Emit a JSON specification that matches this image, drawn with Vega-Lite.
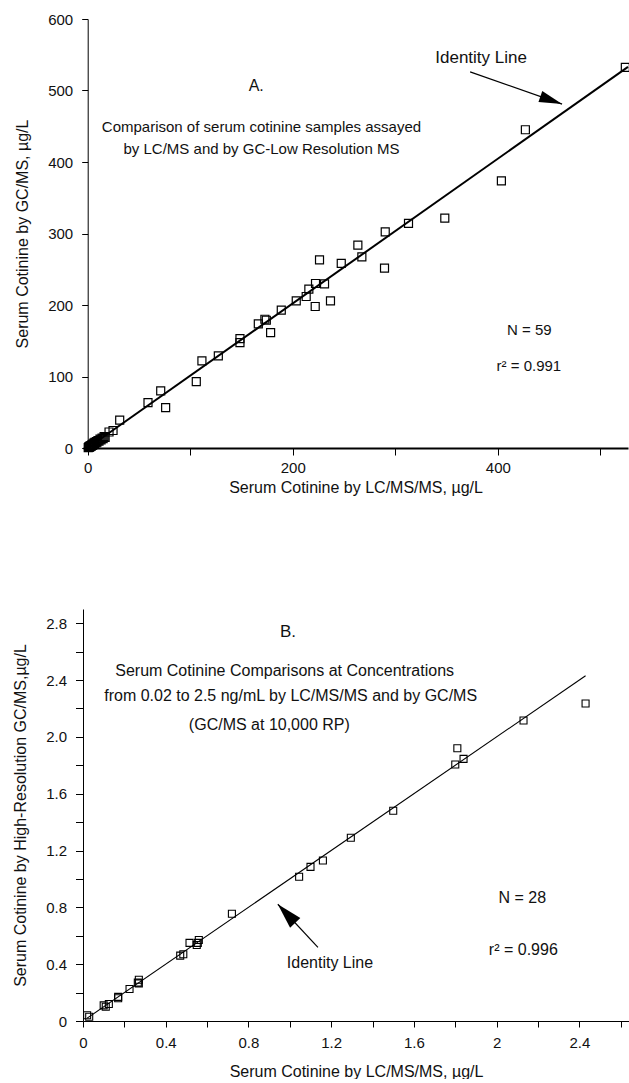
{
  "$schema": "https://vega.github.io/schema/vega-lite/v6.json",
  "background": "white",
  "padding": {"left": 12, "top": 12, "right": 0, "bottom": 0},
  "spacing": 161,
  "bounds": "flush",
  "config": {
    "view": {"stroke": null},
    "font": "Liberation Sans",
    "axis": {
      "grid": false,
      "domainColor": "#000",
      "tickColor": "#000",
      "labelColor": "#111",
      "titleColor": "#111",
      "labelFont": "Liberation Sans",
      "titleFont": "Liberation Sans",
      "labelFontSize": 15,
      "titleFontSize": 16,
      "titleFontWeight": "normal",
      "tickSize": 7,
      "labelFlush": false,
      "labelOverlap": false
    },
    "text": {"font": "Liberation Sans", "color": "#111"}
  },
  "datasets": {
    "a_pts": [
      {"lc": 0.5, "gc": 0.4}, {"lc": 1, "gc": 1.5}, {"lc": 1.5, "gc": 0.8}, {"lc": 2, "gc": 2.5}, {"lc": 2.5, "gc": 1.8},
      {"lc": 3, "gc": 3.5}, {"lc": 3.5, "gc": 2.6}, {"lc": 4, "gc": 4.5}, {"lc": 4.5, "gc": 3.8}, {"lc": 5, "gc": 5.6},
      {"lc": 5.5, "gc": 4.6}, {"lc": 6, "gc": 6.8}, {"lc": 6.5, "gc": 5.5}, {"lc": 7, "gc": 7.8}, {"lc": 8, "gc": 7},
      {"lc": 8.5, "gc": 9}, {"lc": 9, "gc": 8.2}, {"lc": 10, "gc": 10.5}, {"lc": 11, "gc": 9.6}, {"lc": 12, "gc": 12.5},
      {"lc": 13, "gc": 11.5}, {"lc": 14, "gc": 14}, {"lc": 15, "gc": 13.2}, {"lc": 16, "gc": 16}, {"lc": 17, "gc": 15},
      {"lc": 20.8, "gc": 22.4}, {"lc": 24.7, "gc": 24.5}, {"lc": 31.2, "gc": 39},
      {"lc": 58.8, "gc": 63.5}, {"lc": 71.2, "gc": 79.8}, {"lc": 76.0, "gc": 56.5}, {"lc": 105.9, "gc": 92.9},
      {"lc": 111.4, "gc": 121.8}, {"lc": 127.4, "gc": 128.8}, {"lc": 148.5, "gc": 153.1}, {"lc": 148.5, "gc": 147.5},
      {"lc": 166.4, "gc": 173.6}, {"lc": 172.8, "gc": 180.1}, {"lc": 174.2, "gc": 178.7}, {"lc": 178.4, "gc": 161.5},
      {"lc": 188.8, "gc": 192.7}, {"lc": 203.4, "gc": 205.7}, {"lc": 213.1, "gc": 211.9}, {"lc": 215.7, "gc": 222.1},
      {"lc": 222.2, "gc": 230.1}, {"lc": 221.9, "gc": 197.9}, {"lc": 231.0, "gc": 229.5}, {"lc": 236.8, "gc": 205.7},
      {"lc": 226.1, "gc": 263.1}, {"lc": 247.3, "gc": 258.1}, {"lc": 263.5, "gc": 283.7}, {"lc": 267.4, "gc": 267.3},
      {"lc": 289.5, "gc": 251.5}, {"lc": 290.2, "gc": 302.3}, {"lc": 312.9, "gc": 314.1}, {"lc": 348.3, "gc": 321.5},
      {"lc": 403.5, "gc": 373.7}, {"lc": 426.9, "gc": 445.1}, {"lc": 524.4, "gc": 532.4}
    ],
    "b_pts": [
      {"lc": 0.02, "gc": 0.04}, {"lc": 0.03, "gc": 0.03}, {"lc": 0.10, "gc": 0.11}, {"lc": 0.11, "gc": 0.10},
      {"lc": 0.125, "gc": 0.12}, {"lc": 0.17, "gc": 0.16}, {"lc": 0.17, "gc": 0.17}, {"lc": 0.225, "gc": 0.225},
      {"lc": 0.265, "gc": 0.27}, {"lc": 0.27, "gc": 0.29}, {"lc": 0.27, "gc": 0.265}, {"lc": 0.47, "gc": 0.46},
      {"lc": 0.485, "gc": 0.47}, {"lc": 0.515, "gc": 0.55}, {"lc": 0.55, "gc": 0.535}, {"lc": 0.555, "gc": 0.55},
      {"lc": 0.56, "gc": 0.57}, {"lc": 0.72, "gc": 0.755}, {"lc": 1.045, "gc": 1.015}, {"lc": 1.10, "gc": 1.085},
      {"lc": 1.16, "gc": 1.13}, {"lc": 1.295, "gc": 1.29}, {"lc": 1.50, "gc": 1.48}, {"lc": 1.80, "gc": 1.805},
      {"lc": 1.81, "gc": 1.92}, {"lc": 1.84, "gc": 1.845}, {"lc": 2.13, "gc": 2.115}, {"lc": 2.43, "gc": 2.235}
    ],
    "a_line": [{"x1": 0, "y1": 0, "x2": 527, "y2": 533}],
    "a_arrow": [{"x1": 373, "y1": 526, "x2": 462.7, "y2": 481}],
    "a_lbl": [{"x": 164.4, "y": 506.7, "t": "A."}],
    "a_idl": [{"x": 383.7, "y": 545, "t": "Identity Line"}],
    "a_txt": [
      {"x": 169.5, "y": 449.3, "t": "Comparison of serum cotinine samples assayed"},
      {"x": 169.5, "y": 418, "t": "by LC/MS and by GC-Low Resolution MS"},
      {"x": 430.8, "y": 164.7, "t": "N = 59"},
      {"x": 430.3, "y": 114.8, "t": "r² = 0.991"}
    ],
    "b_line": [{"x1": 0.02, "y1": 0.02, "x2": 2.43, "y2": 2.43}],
    "b_arrow": [{"x1": 1.136, "y1": 0.518, "x2": 0.942, "y2": 0.822}],
    "b_lbl": [{"x": 0.991, "y": 2.736, "t": "B."}],
    "b_txt": [
      {"x": 0.975, "y": 2.464, "t": "Serum Cotinine Comparisons at Concentrations"},
      {"x": 1.004, "y": 2.287, "t": "from 0.02 to 2.5 ng/mL by LC/MS/MS and by GC/MS"},
      {"x": 0.901, "y": 2.081, "t": "(GC/MS at 10,000 RP)"},
      {"x": 2.124, "y": 0.866, "t": "N = 28"},
      {"x": 2.129, "y": 0.499, "t": "r² = 0.996"},
      {"x": 1.194, "y": 0.41, "t": "Identity Line"}
    ]
  },
  "vconcat": [
    {
      "width": 545,
      "height": 429,
      "encoding": {
        "x": {"type": "quantitative", "scale": {"domain": [-4.6, 527], "nice": false, "zero": false},
          "axis": {"title": "Serum Cotinine by LC/MS/MS, µg/L", "values": [0, 100, 200, 300, 400, 500],
            "labelExpr": "datum.value % 200 === 0 ? datum.label : ''", "domainWidth": 2, "labelPadding": 5, "titlePadding": 4}},
        "y": {"type": "quantitative", "scale": {"domain": [0, 600], "nice": false},
          "axis": {"title": "Serum Cotinine by GC/MS, µg/L", "values": [0, 100, 200, 300, 400, 500, 600],
            "offset": -4.7, "tickSize": 6, "labelPadding": 9, "titlePadding": 17}}
      },
      "layer": [
        {"data": {"name": "a_line"}, "mark": {"type": "rule", "color": "#000", "strokeWidth": 2},
          "encoding": {"x": {"field": "x1"}, "y": {"field": "y1"}, "x2": {"field": "x2"}, "y2": {"field": "y2"}}},
        {"data": {"name": "a_pts"}, "mark": {"type": "point", "shape": "square", "filled": false, "size": 64, "stroke": "#000", "strokeWidth": 1.2, "opacity": 1},
          "encoding": {"x": {"field": "lc"}, "y": {"field": "gc"}}},
        {"data": {"name": "a_arrow"}, "mark": {"type": "rule", "color": "#000", "strokeWidth": 1.2},
          "encoding": {"x": {"field": "x1"}, "y": {"field": "y1"}, "x2": {"field": "x2"}, "y2": {"field": "y2"}}},
        {"data": {"name": "a_arrow"}, "mark": {"type": "point", "shape": "M0,0L-2,-0.5L-2,0.5Z", "filled": true, "color": "#000", "size": 529, "angle": 19.3, "opacity": 1},
          "encoding": {"x": {"field": "x2"}, "y": {"field": "y2"}}},
        {"data": {"name": "a_lbl"}, "mark": {"type": "text", "fontSize": 16, "align": "center", "baseline": "middle"},
          "encoding": {"x": {"field": "x"}, "y": {"field": "y"}, "text": {"field": "t"}}},
        {"data": {"name": "a_idl"}, "mark": {"type": "text", "fontSize": 17, "align": "center", "baseline": "middle"},
          "encoding": {"x": {"field": "x"}, "y": {"field": "y"}, "text": {"field": "t"}}},
        {"data": {"name": "a_txt"}, "mark": {"type": "text", "fontSize": 15, "align": "center", "baseline": "middle"},
          "encoding": {"x": {"field": "x"}, "y": {"field": "y"}, "text": {"field": "t"}}}
      ]
    },
    {
      "width": 546,
      "height": 412,
      "encoding": {
        "x": {"type": "quantitative", "scale": {"domain": [0, 2.64], "nice": false, "zero": false},
          "axis": {"title": "Serum Cotinine by LC/MS/MS, µg/L", "values": [0, 0.2, 0.4, 0.6, 0.8, 1, 1.2, 1.4, 1.6, 1.8, 2, 2.2, 2.4, 2.6],
            "labelExpr": "round(datum.value * 10) % 4 === 0 ? format(datum.value, '') : ''", "tickSize": 6, "labelPadding": 8, "titlePadding": 13}},
        "y": {"type": "quantitative", "scale": {"domain": [0, 2.9], "nice": false},
          "axis": {"title": "Serum Cotinine by High-Resolution GC/MS,µg/L", "values": [0, 0.2, 0.4, 0.6, 0.8, 1, 1.2, 1.4, 1.6, 1.8, 2, 2.2, 2.4, 2.6, 2.8],
            "labelExpr": "datum.value === 0 ? '0' : (round(datum.value * 10) % 4 === 0 ? format(datum.value, '.1f') : '')", "tickSize": 7.5, "labelPadding": 9, "titlePadding": 17}}
      },
      "layer": [
        {"data": {"name": "b_line"}, "mark": {"type": "rule", "color": "#000", "strokeWidth": 1.1},
          "encoding": {"x": {"field": "x1"}, "y": {"field": "y1"}, "x2": {"field": "x2"}, "y2": {"field": "y2"}}},
        {"data": {"name": "b_pts"}, "mark": {"type": "point", "shape": "square", "filled": false, "size": 49, "stroke": "#000", "strokeWidth": 1.1, "opacity": 1},
          "encoding": {"x": {"field": "lc"}, "y": {"field": "gc"}}},
        {"data": {"name": "b_arrow"}, "mark": {"type": "rule", "color": "#000", "strokeWidth": 1.2},
          "encoding": {"x": {"field": "x1"}, "y": {"field": "y1"}, "x2": {"field": "x2"}, "y2": {"field": "y2"}}},
        {"data": {"name": "b_arrow"}, "mark": {"type": "point", "shape": "M0,0L-2,-0.55L-2,0.55Z", "filled": true, "color": "#000", "size": 650, "angle": 227, "opacity": 1},
          "encoding": {"x": {"field": "x2"}, "y": {"field": "y2"}}},
        {"data": {"name": "b_lbl"}, "mark": {"type": "text", "fontSize": 17, "align": "center", "baseline": "middle"},
          "encoding": {"x": {"field": "x"}, "y": {"field": "y"}, "text": {"field": "t"}}},
        {"data": {"name": "b_txt"}, "mark": {"type": "text", "fontSize": 16, "align": "center", "baseline": "middle"},
          "encoding": {"x": {"field": "x"}, "y": {"field": "y"}, "text": {"field": "t"}}}
      ]
    }
  ]
}
